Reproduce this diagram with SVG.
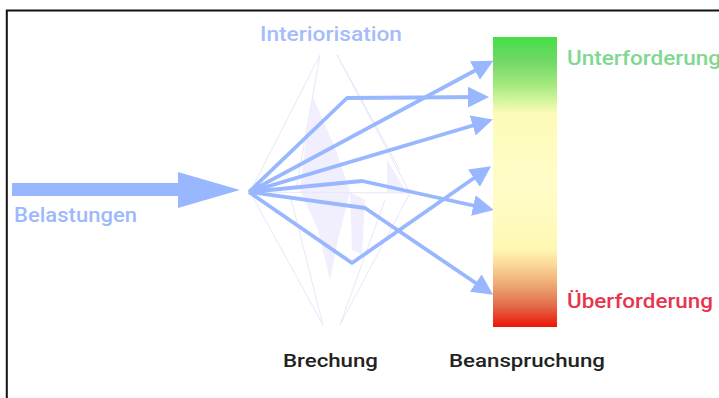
<svg xmlns="http://www.w3.org/2000/svg" width="719" height="398" viewBox="0 0 719 398">
<defs>
<linearGradient id="scale" x1="0" y1="0" x2="0" y2="1">
<stop offset="0" stop-color="#45e045"/>
<stop offset="0.08" stop-color="#6fd866"/>
<stop offset="0.16" stop-color="#a0e87c"/>
<stop offset="0.23" stop-color="#dcf7a4"/>
<stop offset="0.265" stop-color="#fdfbb8"/>
<stop offset="0.5" stop-color="#fffcc8"/>
<stop offset="0.73" stop-color="#fff8b4"/>
<stop offset="0.78" stop-color="#fbdb9c"/>
<stop offset="0.86" stop-color="#eda570"/>
<stop offset="0.93" stop-color="#e26848"/>
<stop offset="1" stop-color="#ee1508"/>
</linearGradient>
<marker id="ah" markerUnits="userSpaceOnUse" markerWidth="22" markerHeight="22" refX="16" refY="10.5" orient="auto">
<path d="M0,0 L21,10.5 L0,21 z" fill="#99b7ff"/>
</marker>
</defs>
<style>
.lbl{font-family:Roboto,"Liberation Sans","DejaVu Sans",sans-serif;font-size:20px;font-weight:500}
.cap{font-family:Roboto,"Liberation Sans","DejaVu Sans",sans-serif;font-size:18px;font-weight:500;fill:#222}
.ray{fill:none;stroke:#99b7ff;stroke-width:3.8;stroke-linejoin:round;marker-end:url(#ah)}
.faint{fill:none;stroke:#e8e6fb;stroke-width:1}
.shade{fill:#f1eefd}
</style>
<rect x="0" y="0" width="719" height="398" fill="#fff"/>
<g id="frame">
<line x1="6" y1="10.5" x2="719" y2="10.5" stroke="#111" stroke-width="2"/>
<line x1="6.8" y1="10" x2="6.8" y2="398" stroke="#111" stroke-width="2"/>
</g>
<g id="prism">
<polygon class="shade" points="313,97 336,150 350,192 338,240 330,280 318,230 300,190 306,140"/>
<polygon class="shade" points="387,160 407,193 387,192"/>
<polygon class="shade" points="350,192 365,200 362,255 352,250"/>
<polyline class="faint" points="320,55 250,192 323,325"/>
<polyline class="faint" points="337,55 410,193 340,325"/>
<line class="faint" x1="320" y1="55" x2="296" y2="190"/>
<line class="faint" x1="337" y1="55" x2="400" y2="170"/>
<line class="faint" x1="323" y1="325" x2="290" y2="195"/>
<line class="faint" x1="340" y1="325" x2="385" y2="200"/>
<line class="faint" x1="250" y1="192" x2="410" y2="193"/>
</g>
<g id="belastungen">
<polygon points="12,183 178,183 178,172 240,190 178,208 178,196 12,196" fill="#99b7ff"/>
<text class="lbl" x="14" y="222" fill="#9db9fb" textLength="123" lengthAdjust="spacingAndGlyphs">Belastungen</text>
</g>
<g id="connectors">
<path class="ray" d="M249,192 L347,98 L484,97"/>
<path class="ray" d="M249,192 L489,63"/>
<path class="ray" d="M249,192 L488,121"/>
<path class="ray" d="M249,192 L362,181 L489,209"/>
<path class="ray" d="M249,192 L365,208 L489,292"/>
<path class="ray" d="M249,192 L352,263 L487,169"/>
</g>
<g id="interiorisation">
<text class="lbl" x="260" y="41" fill="#a5bcfb" textLength="142" lengthAdjust="spacingAndGlyphs">Interiorisation</text>
</g>
<g id="beanspruchung-scale">
<rect x="493" y="37" width="64" height="290" fill="url(#scale)"/>
<text class="lbl" x="567" y="65" fill="#80d890" textLength="154" lengthAdjust="spacingAndGlyphs">Unterforderung</text>
<text class="lbl" x="567" y="308" fill="#e8354f" textLength="146" lengthAdjust="spacingAndGlyphs">Überforderung</text>
</g>
<g id="captions">
<text class="cap" x="283" y="367" textLength="95" lengthAdjust="spacingAndGlyphs">Brechung</text>
<text class="cap" x="449" y="367" textLength="156" lengthAdjust="spacingAndGlyphs">Beanspruchung</text>
</g>
</svg>
